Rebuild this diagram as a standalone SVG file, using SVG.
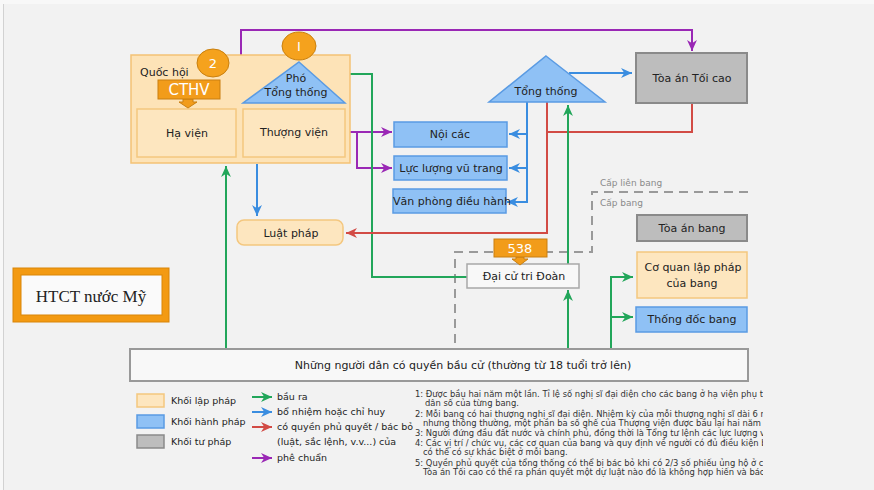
<svg xmlns="http://www.w3.org/2000/svg" width="874" height="490" viewBox="0 0 874 490">
<style>
text{font-family:"DejaVu Sans","Noto Sans",sans-serif;fill:#222;}
.t11{font-size:11px;text-anchor:middle;}
.leg{font-size:9.5px;}
.note{font-size:8.4px;fill:#333;}
.orL{fill:#fde3b7;stroke:#f4c275;stroke-width:1.5;}
.orI{fill:#fde6bf;stroke:#f4c77f;stroke-width:1.5;}
.bl{fill:#8fc1f5;stroke:#5a9be3;stroke-width:1.5;}
.gr{fill:#bdbdbd;stroke:#8a8a8a;stroke-width:2;}
.wh{fill:#f8f8f8;stroke:#a8a8a8;stroke-width:1.5;}
.badge{fill:#f5a21d;stroke:#c9800f;stroke-width:1;}
.tag{fill:#f29c1a;stroke:#c97f10;stroke-width:1;}
.wt{fill:#fff;text-anchor:middle;}
.c{fill:none;stroke-width:2;}
.g{stroke:#22a65a;}
.b{stroke:#3a8de0;}
.r{stroke:#d24b45;}
.p{stroke:#9a28b5;}
.dash{fill:none;stroke:#9a9a9a;stroke-width:2;stroke-dasharray:9,6;}
</style>
<defs>
<marker id="ag" viewBox="0 0 10 10" refX="10" refY="5" markerWidth="11" markerHeight="11" markerUnits="userSpaceOnUse" orient="auto"><path d="M0,0.5 L10,5 L0,9.5 L3,5 z" fill="#22a65a"/></marker>
<marker id="ab" viewBox="0 0 10 10" refX="10" refY="5" markerWidth="11" markerHeight="11" markerUnits="userSpaceOnUse" orient="auto"><path d="M0,0.5 L10,5 L0,9.5 L3,5 z" fill="#3a8de0"/></marker>
<marker id="ar" viewBox="0 0 10 10" refX="10" refY="5" markerWidth="11" markerHeight="11" markerUnits="userSpaceOnUse" orient="auto"><path d="M0,0.5 L10,5 L0,9.5 L3,5 z" fill="#d24b45"/></marker>
<marker id="ap" viewBox="0 0 10 10" refX="10" refY="5" markerWidth="11" markerHeight="11" markerUnits="userSpaceOnUse" orient="auto"><path d="M0,0.5 L10,5 L0,9.5 L3,5 z" fill="#9a28b5"/></marker>
<clipPath id="notesClip"><rect x="0" y="380" width="763" height="110"/></clipPath>
</defs>

<rect x="0" y="0" width="874" height="490" fill="#f2f2f2"/>
<rect x="0" y="0" width="874" height="4" fill="#f8f8f8"/>
<rect x="0" y="0" width="3" height="490" fill="#f8f8f8"/>
<line x1="3.5" y1="4" x2="3.5" y2="490" stroke="#d2d2d2" stroke-width="1"/>

<!-- dashed level boundaries -->
<g id="levels">
<path class="dash" d="M748,192 H592 V252 H455 V350"/>
<text x="600" y="186" style="font-size:9px;fill:#8a8a8a">Cấp liên bang</text>
<text x="600" y="206" style="font-size:9px;fill:#8a8a8a">Cấp bang</text>
</g>

<!-- connectors -->
<g id="connectors">
<path class="c p" d="M241,55 V30 H692 V51" marker-end="url(#ap)"/>
<path class="c p" d="M345,132 H392" marker-end="url(#ap)"/>
<path class="c p" d="M357,132 V168 H392" marker-end="url(#ap)"/>
<path class="c g" d="M327,74 H372 V277 H467"/>
<path class="c g" d="M226,350 V166" marker-end="url(#ag)"/>
<path class="c b" d="M257,164 V216" marker-end="url(#ab)"/>
<path class="c r" d="M692,103 V132 H547"/>
<path class="c r" d="M547,102 V233 H346" marker-end="url(#ar)"/>
<path class="c b" d="M569,73 H632" marker-end="url(#ab)"/>
<path class="c b" d="M527,102 V202"/>
<path class="c b" d="M527,134 H509" marker-end="url(#ab)"/>
<path class="c b" d="M527,168 H509" marker-end="url(#ab)"/>
<path class="c b" d="M528,202 H507" marker-end="url(#ab)"/>
<path class="c g" d="M568,350 V290" marker-end="url(#ag)"/>
<path class="c g" d="M568,264 V105" marker-end="url(#ag)"/>
<path class="c g" d="M611,350 V277 H633" marker-end="url(#ag)"/>
<path class="c g" d="M611,317 H633" marker-end="url(#ag)"/>
</g>

<!-- Congress -->
<g id="quoc-hoi">
<rect class="orL" x="131" y="55" width="219" height="108"/>
<text x="140" y="76" style="font-size:11px">Quốc hội</text>
</g>
<g id="ha-vien">
<rect class="orI" x="137" y="109" width="99" height="48"/>
<text class="t11" x="187" y="137">Hạ viện</text>
</g>
<g id="thuong-vien">
<rect class="orI" x="243" y="109" width="102" height="48"/>
<text class="t11" x="294" y="136">Thượng viện</text>
</g>
<g id="cthv">
<path class="tag" d="M183,99 H193 V102 H197 L188,108 L179,102 H183 z"/>
<rect class="tag" x="158" y="80" width="62" height="19"/>
<text class="wt" x="189" y="95" style="font-size:15px">CTHV</text>
</g>
<g id="badge-2">
<ellipse class="badge" cx="213" cy="63" rx="16" ry="14"/>
<text class="wt" x="213" y="68" style="font-size:13px">2</text>
</g>
<g id="pho-tong-thong">
<polygon class="bl" points="299,62 345,103 243,103"/>
<text class="t11" x="296" y="82">Phó</text>
<text class="t11" x="296" y="96">Tổng thống</text>
</g>
<g id="badge-1">
<ellipse class="badge" cx="299" cy="46" rx="17" ry="14"/>
<text class="wt" x="299" y="51" style="font-size:13px">I</text>
</g>

<!-- Executive -->
<g id="tong-thong">
<polygon class="bl" points="546,56 605,102 489,102"/>
<text class="t11" x="546" y="95">Tổng thống</text>
</g>
<g id="noi-cac">
<rect class="bl" x="394" y="122" width="113" height="25"/>
<text class="t11" x="450" y="138">Nội các</text>
</g>
<g id="luc-luong-vu-trang">
<rect class="bl" x="394" y="156" width="113" height="24"/>
<text class="t11" x="451" y="172">Lực lượng vũ trang</text>
</g>
<g id="van-phong-dieu-hanh">
<rect class="bl" x="393" y="189" width="113" height="24"/>
<text class="t11" x="452" y="205">Văn phòng điều hành</text>
</g>

<!-- Judicial -->
<g id="toa-an-toi-cao">
<rect class="gr" x="636" y="53" width="111" height="50"/>
<text class="t11" x="692" y="82">Tòa án Tối cao</text>
</g>

<g id="luat-phap">
<rect class="orI" x="237" y="220" width="106" height="25" rx="7"/>
<text class="t11" x="291" y="237">Luật pháp</text>
</g>

<g id="dai-cu-tri-doan">
<rect class="wh" x="467" y="264" width="112" height="24"/>
<text class="t11" x="524" y="280">Đại cử tri Đoàn</text>
</g>
<g id="tag-538">
<path class="tag" d="M516,257 H524 V259 H528 L520,265 L512,259 H516 z"/>
<rect class="tag" x="494" y="239" width="53" height="18"/>
<text class="wt" x="520" y="253" style="font-size:13px">538</text>
</g>

<!-- State level -->
<g id="toa-an-bang">
<rect class="gr" x="637" y="215" width="110" height="26"/>
<text class="t11" x="692" y="232">Tòa án bang</text>
</g>
<g id="co-quan-lap-phap-bang">
<rect class="orI" x="637" y="252" width="110" height="46"/>
<text class="t11" x="693" y="271">Cơ quan lập pháp</text>
<text class="t11" x="692" y="287">của bang</text>
</g>
<g id="thong-doc-bang">
<rect class="bl" x="636" y="307" width="111" height="25"/>
<text class="t11" x="692" y="323">Thống đốc bang</text>
</g>

<!-- Voters -->
<g id="cu-tri">
<rect class="wh" x="130" y="349" width="618" height="32" style="stroke:#999;stroke-width:2"/>
<text class="t11" x="463" y="369">Những người dân có quyền bầu cử (thường từ 18 tuổi trở lên)</text>
</g>

<!-- Title -->
<g id="title">
<rect x="13" y="268" width="156" height="54" fill="#f39a12" stroke="#d98508" stroke-width="1"/>
<rect x="21" y="275" width="141" height="40" fill="#fafafa" stroke="#d98508" stroke-width="1"/>
<text x="91" y="302" style="font-family:'Liberation Serif','DejaVu Serif',serif;font-size:17px;text-anchor:middle">HTCT nước Mỹ</text>
</g>

<!-- Legend -->
<g id="legend">
<rect class="orI" x="137" y="394" width="27" height="13"/>
<rect class="bl" x="137" y="415" width="27" height="13"/>
<rect class="gr" x="137" y="435" width="27" height="13" style="stroke-width:1.5"/>
<text class="leg" x="171" y="404">Khối lập pháp</text>
<text class="leg" x="171" y="425">Khối hành pháp</text>
<text class="leg" x="171" y="445">Khối tư pháp</text>
<path class="c g" d="M252,397 H272" marker-end="url(#ag)"/>
<path class="c b" d="M252,412 H272" marker-end="url(#ab)"/>
<path class="c r" d="M252,427 H272" marker-end="url(#ar)"/>
<path class="c p" d="M252,458 H272" marker-end="url(#ap)"/>
<text class="leg" x="277" y="400">bầu ra</text>
<text class="leg" x="277" y="415">bổ nhiệm hoặc chỉ huy</text>
<text class="leg" x="277" y="430">có quyền phủ quyết / bác bỏ</text>
<text class="leg" x="277" y="445">(luật, sắc lệnh, v.v...) của</text>
<text class="leg" x="277" y="461">phê chuẩn</text>
</g>

<!-- Notes -->
<g id="notes" clip-path="url(#notesClip)">
<text class="note" x="415" y="397">1:  Được bầu hai năm một lần. Tỉ lệ số nghị sĩ đại diện cho các bang ở hạ viện phụ thuộc vào</text>
<text class="note" x="425" y="406">dân số của từng bang.</text>
<text class="note" x="415" y="417">2: Mỗi bang có hai thượng nghị sĩ đại diện. Nhiệm kỳ của mỗi thượng nghị sĩ dài 6 năm,</text>
<text class="note" x="423" y="426">nhưng thông thường, một phần ba số ghế của Thượng viện được bầu lại hai năm một lần.</text>
<text class="note" x="415" y="436">3: Người đứng đầu đất nước và chính phủ, đồng thời là Tổng tư lệnh các lực lượng vũ trang.</text>
<text class="note" x="415" y="446">4: Các vị trí / chức vụ, các cơ quan của bang và quy định về người có đủ điều kiện bầu cử</text>
<text class="note" x="423" y="455">có thể có sự khác biệt ở mỗi bang.</text>
<text class="note" x="415" y="466">5: Quyền phủ quyết của tổng thống có thể bị bác bỏ khi có 2/3 số phiếu ủng hộ ở cả hai viện.</text>
<text class="note" x="423" y="475">Tòa án Tối cao có thể ra phán quyết một dự luật nào đó là không hợp hiến và bác bỏ nó.</text>
</g>
</svg>
